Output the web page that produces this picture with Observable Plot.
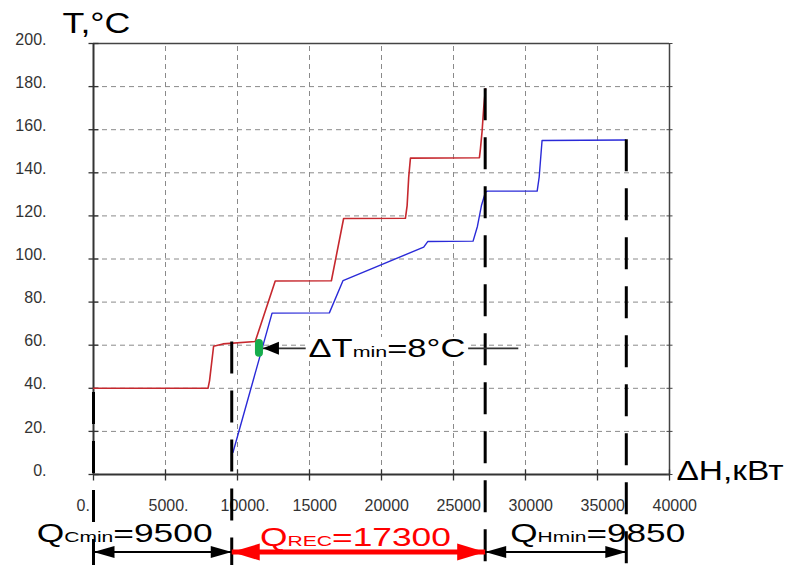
<!DOCTYPE html>
<html>
<head>
<meta charset="utf-8">
<script src="https://cdn.jsdelivr.net/npm/d3@7"></script>
<script src="https://cdn.jsdelivr.net/npm/@observablehq/plot@0.6"></script>
<style>
html,body{margin:0;padding:0;background:#fff;}
svg{display:block;}
</style>
</head>
<body>
<script>
// ---- data ----
const hotDH = [0, 7950, 8060, 8340, 8990, 11230, 12620, 16520, 17370, 21660, 21780, 21890, 22010, 26800, 26870, 26990, 27100, 27220];
const hotT  = [40, 40, 43.6, 59.5, 60.6, 61.7, 89.8, 89.9, 118.8, 118.9, 124.8, 138.0, 146.8, 147.0, 151.1, 159.6, 170.4, 179.0];
const coldDH = [9690, 12400, 16380, 17330, 22930, 23210, 26360, 26660, 26940, 27220, 27350, 30810, 30950, 31150, 36940];
const coldT  = [10.3, 74.9, 75.0, 90.0, 105.5, 108.1, 108.3, 115.1, 124.8, 131.0, 131.5, 131.5, 138.0, 155.0, 155.2];
const xTicks = [0, 5000, 10000, 15000, 20000, 25000, 30000, 35000, 40000];
const xTickLabels = ["0.", "5000.", "10000.", "15000", "20000", "25000", "30000", "35000", "40000"];
const yTicks = [0, 20, 40, 60, 80, 100, 120, 140, 160, 180, 200];
const yTickLabels = ["0.", "20.", "40.", "60.", "80.", "100.", "120.", "140.", "160.", "180.", "200."];
const dividerDH = [0, 9600, 27200, 37000];
const dividerTopT = [38, 61.5, 179, 155.3];
const spanNames = ["Cmin", "REC", "Hmin"];
const spanValues = [9500, 17300, 9850];
const pinchDH = 11490;
const pinchT = [56.3, 60.8];
const pinchLabel = ["ΔT", "min", "=8°C"];
const pinchLeaderEnd = 29500;
const spanRowT = -36;
const yTitle = "T,°C";
const xTitle = "ΔH,кВт";

// ---- derived tables ----
const hot = hotDH.map((x, i) => ({x, t: hotT[i]}));
const cold = coldDH.map((x, i) => ({x, t: coldT[i]}));
const spans = dividerDH.slice(0, -1).map((a, i) => ({a, b: dividerDH[i + 1], name: spanNames[i], value: spanValues[i]}));
const dividers = dividerDH.map((x, i) => ({x, top: dividerTopT[i]}));
const pinchArrowT = (pinchT[0] + pinchT[1]) / 2;
const spanText = (d) => "Q" + d.name + "=" + d.value;

// ---- styles ----
const FONT = "'Liberation Sans', Arial, sans-serif";
const hTick = {draw(c) { c.moveTo(-5, 0); c.lineTo(5, 0); }};
const hTickIn = {draw(c) { c.moveTo(-3, 0); c.lineTo(3, 0); }};
const vTick = {draw(c) { c.moveTo(0, -5); c.lineTo(0, 6); }};
const headLeft = (L, H) => ({draw(c) { c.moveTo(0, 0); c.lineTo(L, -H); c.lineTo(L, H); c.closePath(); }});
const headRight = (L, H) => ({draw(c) { c.moveTo(0, 0); c.lineTo(-L, -H); c.lineTo(-L, H); c.closePath(); }});
const spanColor = (d) => d.name === "REC" ? "#ff0000" : "#000000";
const labelDx = [-38, -3, 42];
const labelDy = [-10, -6.5, -10];
const labelWidth = [176, 191, 175];

const marks = [
  // grid
  Plot.ruleX(xTicks.slice(1, -1), {x: d => d, y1: 0, y2: 200, stroke: "#8a8a8a", strokeWidth: 1, strokeDasharray: "5,4"}),
  Plot.ruleY(yTicks.slice(1, -1), {y: d => d, x1: 0, x2: 40000, stroke: "#8a8a8a", strokeWidth: 1, strokeDasharray: "5,4"}),
  // frame
  Plot.ruleY([200], {y: d => d, x1: 0, x2: 40000, stroke: "#444", strokeWidth: 1.5}),
  Plot.ruleX([40000], {x: d => d, y1: 0, y2: 200, stroke: "#444", strokeWidth: 1.5}),
  Plot.ruleX([0], {x: d => d, y1: 0, y2: 200, stroke: "#333", strokeWidth: 2}),
  Plot.ruleY([0], {y: d => d, x1: 0, x2: 40000, stroke: "#333", strokeWidth: 2}),
  // ticks
  Plot.dot(yTicks, {x: 0, y: d => d, symbol: hTick, stroke: "#333", fill: "none", strokeWidth: 1.3}),
  Plot.dot(yTicks, {x: 40000, y: d => d, symbol: hTickIn, stroke: "#444", fill: "none", strokeWidth: 1}),
  Plot.dot(xTicks, {x: d => d, y: 0, symbol: vTick, stroke: "#333", fill: "none", strokeWidth: 1.3}),
  // tick labels
  Plot.text(xTicks, {x: d => d, y: 0, text: (d, i) => xTickLabels[i], dx: -17, dy: 31, textAnchor: "start", lineAnchor: "middle", fontSize: 16, fill: "#333"}),
  Plot.text(yTicks, {x: 0, y: d => d, text: (d, i) => yTickLabels[i], dx: -47, dy: -4, textAnchor: "end", lineAnchor: "middle", fontSize: 16, fill: "#333"}),
  // axis titles
  Plot.text([yTitle], {x: 0, y: 200, text: d => d, dx: -31, dy: -10.3, textAnchor: "start", lineAnchor: "bottom", fontSize: 29, fill: "#000"}),
  Plot.text([xTitle], {x: 40000, y: 0, text: d => d, dx: 7, dy: 5.5, textAnchor: "start", lineAnchor: "bottom", fontSize: 27, fill: "#000"}),
  // composite curves
  Plot.line(hot, {x: "x", y: "t", stroke: "#c6282e", strokeWidth: 1.6}),
  Plot.line(cold, {x: "x", y: "t", stroke: "#2a2ad8", strokeWidth: 1.4}),
  // dividers
  Plot.ruleX(dividers, {x: "x", y1: "top", y2: -43, stroke: "#000", strokeWidth: 3, strokeDasharray: "32,17"}),
  // pinch annotation
  Plot.link([pinchDH], {x1: d => d, x2: pinchLeaderEnd, y1: pinchArrowT, y2: pinchArrowT, stroke: "#333", strokeWidth: 1.6}),
  Plot.ruleX([pinchDH], {x: d => d, y1: pinchT[0], y2: pinchT[1], stroke: "#16ad4c", strokeWidth: 8, strokeLinecap: "round"}),
  Plot.dot([pinchDH], {x: d => d, y: pinchArrowT, dx: 4, symbol: headLeft(16, 6.5), fill: "#000", stroke: "none"}),
  Plot.text([pinchLabel.join("")], {x: pinchDH, y: pinchArrowT, text: d => d, dx: 49.5, dy: 9, textAnchor: "start", lineAnchor: "bottom", fontSize: 25, fill: "#000"}),
];

spans.forEach((s, i) => {
  const red = s.name === "REC";
  const col = spanColor(s);
  const L = red ? 28 : 21, H = red ? 8.5 : 6;
  marks.push(
    Plot.link([s], {x1: "a", x2: "b", y1: spanRowT, y2: spanRowT, stroke: col, strokeWidth: red ? 5 : 2}),
    Plot.dot([s], {x: "a", y: spanRowT, symbol: headLeft(L, H), fill: col, stroke: "none"}),
    Plot.dot([s], {x: "b", y: spanRowT, symbol: headRight(L, H), fill: col, stroke: "none"}),
    Plot.text([s], {x: d => (d.a + d.b) / 2, y: spanRowT, text: spanText, dx: labelDx[i], dy: labelDy[i], textAnchor: "middle", lineAnchor: "bottom", fontSize: 26, fill: col})
  );
});

const svg = Plot.plot({
  width: 787,
  height: 565,
  marginLeft: 93,
  marginRight: 118,
  marginTop: 43,
  marginBottom: 91,
  x: {domain: [0, 40000], axis: null},
  y: {domain: [0, 200], axis: null},
  style: {fontFamily: FONT, background: "#fff", overflow: "visible"},
  marks
});
document.body.append(svg);

// ---- text post-processing: subscripts and horizontal stretch ----
const NS = "http://www.w3.org/2000/svg";
function rich(el, parts, sizes) {
  el.textContent = "";
  parts.forEach((p, k) => {
    const ts = document.createElementNS(NS, "tspan");
    ts.textContent = p;
    ts.setAttribute("font-size", sizes[k]);
    el.appendChild(ts);
  });
}
function stretchTo(el, width) {
  const w = el.getBBox().width;
  if (!(w > 0)) return;
  const k = width / w;
  let t = el.getAttribute("transform") || "";
  if (!t) {
    const x = el.getAttribute("x");
    if (x != null && !isNaN(+x)) { el.removeAttribute("x"); t = `translate(${x},0)`; }
  }
  el.setAttribute("transform", `${t} scale(${k.toFixed(4)},1)`);
}
const allText = Array.from(svg.querySelectorAll("text"));
const pick = (s) => allText.find(el => el.textContent === s);

spans.forEach((s, i) => {
  const el = pick(spanText(s));
  if (!el) return;
  rich(el, ["Q", s.name, "=" + s.value], [26, 15.5, 26]);
  stretchTo(el, labelWidth[i]);
});
{
  const el = pick(pinchLabel.join(""));
  if (el) {
    rich(el, pinchLabel, [25, 15.5, 25]);
    stretchTo(el, 157);
    const bb = el.getBBox();
    const r = document.createElementNS(NS, "rect");
    r.setAttribute("x", bb.x - 2);
    r.setAttribute("y", bb.y + 2);
    r.setAttribute("width", bb.width + 4);
    r.setAttribute("height", bb.height - 4);
    r.setAttribute("fill", "#fff");
    r.setAttribute("stroke", "none");
    r.setAttribute("transform", el.getAttribute("transform"));
    el.parentNode.insertBefore(r, el);
  }
}
{ const el = pick(yTitle); if (el) stretchTo(el, 68); }
{ const el = pick(xTitle); if (el) stretchTo(el, 107); }
</script>
</body>
</html>
